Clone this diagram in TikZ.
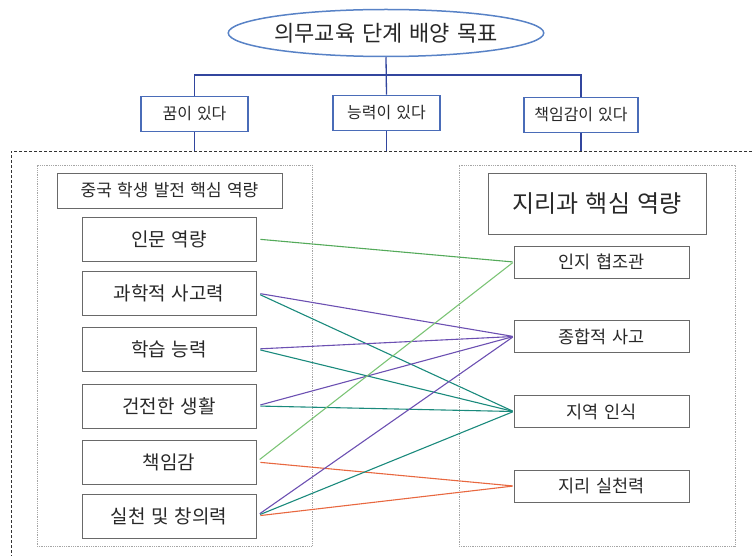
\documentclass[tikz,border=0pt]{standalone}
\usepackage{fontspec}
\setmainfont{Noto Sans CJK KR}[WordSpace=1.4]
\usepackage{tikz}
\usetikzlibrary{shapes.geometric,calc}
\definecolor{goalblue}{RGB}{88,130,198}
\definecolor{aimblue}{RGB}{74,108,184}
\definecolor{treeblue}{RGB}{50,70,158}
\definecolor{boxgray}{RGB}{105,105,105}
\definecolor{panelgray}{RGB}{165,165,165}
\definecolor{inkgray}{RGB}{40,40,40}
\definecolor{lkgreen}{RGB}{84,170,90}
\definecolor{lklight}{RGB}{124,196,118}
\definecolor{lkpurple}{RGB}{108,80,178}
\definecolor{lkteal}{RGB}{26,138,124}
\definecolor{lkorange}{RGB}{232,104,64}
\tikzset{
	fsz/.style={font=\fontsize{#1}{#1}\selectfont},
	goal/.style={ellipse,draw=goalblue,line width=1.5pt,
		minimum width=312,minimum height=47,inner sep=0pt,fsz=22,text=inkgray},
	aim/.style={draw=aimblue,line width=1.7pt,minimum height=35,
		inner sep=0pt,fsz=16,text=inkgray},
	tree/.style={draw=treeblue,line width=1.3pt},
	frame/.style={draw=black!80,line width=.8pt,dash pattern=on 3pt off 2pt},
	panel/.style={draw=panelgray,line width=.8pt,densely dotted,inner sep=0pt},
	box/.style={draw=boxgray,line width=.9pt,inner sep=0pt,text=inkgray},
	cnitem/.style={box,minimum width=174,minimum height=44,fsz=19},
	geoitem/.style={box,minimum width=175,minimum height=32,fsz=17.5},
	link/.style={draw=#1,line width=1.1pt,shorten <=4pt,shorten >=1pt}
}

\begin{document}
\begin{tikzpicture}[x=1pt,y=-1pt]
	\useasboundingbox (0,0) rectangle (752,556);
	% goal and its three branches
	\node[goal] (goal) at (386,33) {의무교육 단계 배양 목표};
	\node[aim,minimum width=107] (dream) at (194.5,114) {꿈이 있다};
	\node[aim,minimum width=107] (ability) at (386.5,113) {능력이 있다};
	\node[aim,minimum width=114] (resp) at (581,115) {책임감이 있다};
	\coordinate (hub) at (386,75);
	\coordinate (frameNW) at (11,151);
	\draw[frame] (752,151) -- (frameNW) -- (11,556);
	\draw[tree] (goal.south) -- (ability.north);
	\draw[tree] (dream.north) -- (dream.north |- hub) -- (resp.north |- hub) -- (resp.north);
	\foreach \n in {dream,ability,resp}
		\draw[tree] (\n.south) -- (\n.south |- frameNW);
	% two panels
	\node[panel,minimum width=275,minimum height=381] (cnpanel) at (174.5,355.5) {};
	\node[panel,minimum width=276,minimum height=381] (geopanel) at (597,355.5) {};
	\node[box,minimum width=225,minimum height=35,fsz=17] (cntitle) at (169.5,190.5) {중국 학생 발전 핵심 역량};
	\node[box,minimum width=218,minimum height=61,fsz=24] (geotitle) at (597,203.5) {지리과 핵심 역량};
	\foreach \y/\t [count=\i] in {239/인문 역량,293/과학적 사고력,349/학습 능력,
			406/건전한 생활,462/책임감,516/실천 및 창의력}
		\node[cnitem] (cn\i) at (169,\y) {\t};
	\foreach \y/\t [count=\i] in {262/인지 협조관,336.5/종합적 사고,411.5/지역 인식,486/지리 실천력}
		\node[geoitem] (geo\i) at (601.5,\y) {\t};
	% links
	\draw[link=lkgreen] (cn1.east) -- (geo1.west);
	\draw[link=lkpurple] (cn2.east) -- (geo2.west);
	\draw[link=lkteal] (cn2.east) -- (geo3.west);
	\draw[link=lkpurple] (cn3.east) -- (geo2.west);
	\draw[link=lkteal] (cn3.east) -- (geo3.west);
	\draw[link=lkpurple] (cn4.east) -- (geo2.west);
	\draw[link=lkteal] (cn4.east) -- (geo3.west);
	\draw[link=lklight] (cn5.east) -- (geo1.west);
	\draw[link=lkorange] (cn5.east) -- (geo4.west);
	\draw[link=lkpurple] (cn6.east) -- (geo2.west);
	\draw[link=lkteal] (cn6.east) -- (geo3.west);
	\draw[link=lkorange] (cn6.east) -- (geo4.west);
\end{tikzpicture}
\end{document}
